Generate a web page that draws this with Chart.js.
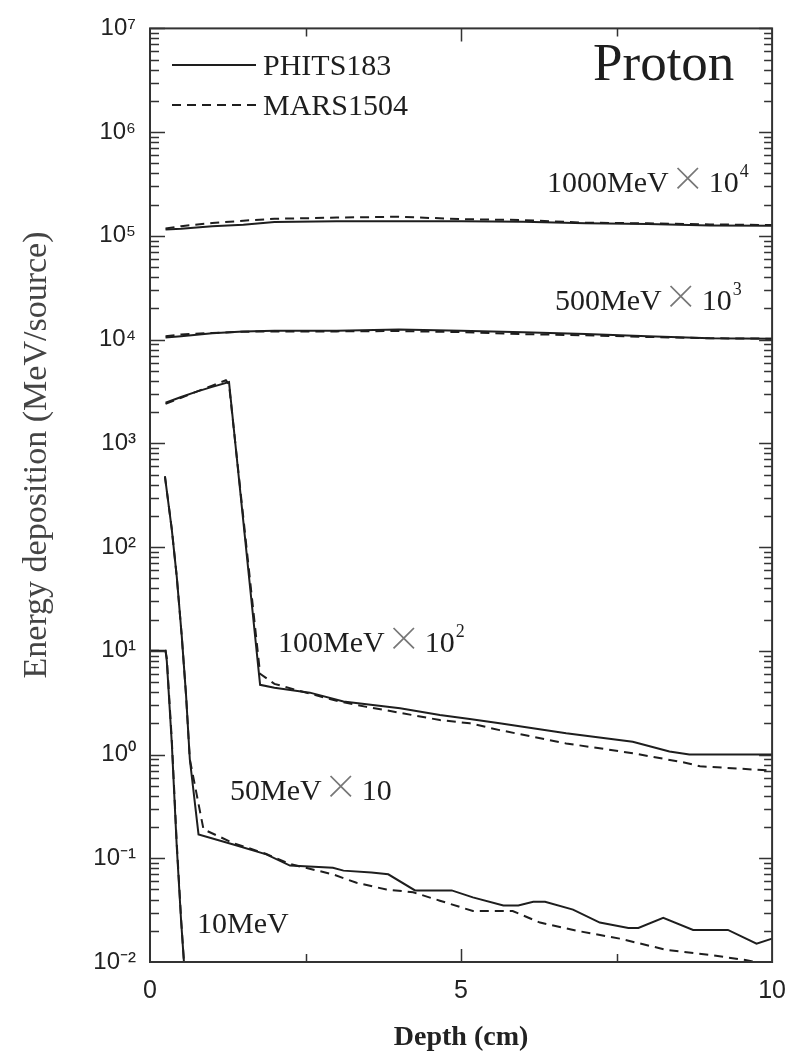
<!DOCTYPE html>
<html>
<head>
<meta charset="utf-8">
<title>Proton - Energy deposition</title>
<script src="https://cdn.jsdelivr.net/npm/chart.js@4.4.1/dist/chart.umd.min.js"></script>
<style>
  html, body { margin: 0; padding: 0; background: #fff; }
</style>
</head>
<body>
<canvas id="grafica" width="800" height="1061"></canvas>
<script>
// valores (profundidad en cm, MeV/source)
var depthFlat = [0.25, 0.5, 1, 1.5, 2, 3, 4, 5, 6, 7, 8, 9, 10];
var phits1000 = [1.15e5, 1.17e5, 1.24e5, 1.28e5, 1.36e5, 1.38e5, 1.38e5, 1.38e5, 1.37e5, 1.32e5, 1.30e5, 1.26e5, 1.25e5];
var mars1000  = [1.18e5, 1.24e5, 1.33e5, 1.40e5, 1.46e5, 1.50e5, 1.53e5, 1.45e5, 1.42e5, 1.34e5, 1.32e5, 1.29e5, 1.27e5];
var phits500  = [1.05e4, 1.08e4, 1.15e4, 1.20e4, 1.22e4, 1.22e4, 1.25e4, 1.22e4, 1.18e4, 1.13e4, 1.08e4, 1.03e4, 1.02e4];
var mars500   = [1.08e4, 1.12e4, 1.16e4, 1.19e4, 1.20e4, 1.20e4, 1.21e4, 1.18e4, 1.13e4, 1.10e4, 1.06e4, 1.03e4, 1.02e4];

var depthP100 = [0.25, 0.5, 0.75, 1.0, 1.27, 1.77, 2.0, 2.57, 3.11, 3.48, 4.02, 4.66, 5.14, 5.62, 6.69, 7.76, 8.35, 8.67, 10];
var phits100  = [2460, 2800, 3150, 3500, 3900, 4.7, 4.4, 3.95, 3.25, 3.05, 2.8, 2.4, 2.2, 2.0, 1.6, 1.33, 1.07, 1.0, 1.0];
var depthM100 = [0.25, 0.5, 0.75, 1.0, 1.22, 1.27, 1.77, 2.0, 2.57, 3.0, 3.48, 3.75, 4.66, 5.14, 5.62, 6.69, 7.76, 8.62, 8.84, 10];
var mars100   = [2400, 2750, 3150, 3600, 4050, 3700, 6.0, 4.8, 3.86, 3.3, 2.88, 2.7, 2.15, 2.0, 1.72, 1.28, 1.03, 0.83, 0.77, 0.70];

var depthP50 = [0.24, 0.35, 0.43, 0.51, 0.58, 0.64, 0.78, 1.34, 1.87, 2.25, 2.94, 3.11, 3.56, 3.83, 4.26, 4.85, 5.19, 5.68, 5.92, 6.16, 6.35, 6.80, 7.23, 7.69, 7.85, 8.25, 8.73, 9.29, 9.75, 10];
var phits50  = [480, 148, 52, 14, 3.7, 0.9, 0.17, 0.136, 0.109, 0.085, 0.081, 0.076, 0.073, 0.070, 0.049, 0.049, 0.042, 0.035, 0.035, 0.038, 0.038, 0.032, 0.024, 0.0213, 0.0213, 0.0266, 0.0204, 0.0204, 0.015, 0.0168];
var depthM50 = [0.24, 0.35, 0.43, 0.51, 0.58, 0.64, 0.86, 1.34, 1.87, 2.25, 2.94, 3.32, 3.80, 4.23, 4.66, 5.19, 5.83, 6.27, 6.86, 7.55, 8.30, 9.05, 9.59, 10];
var mars50   = [480, 150, 52, 14, 3.7, 0.9, 0.19, 0.14, 0.11, 0.088, 0.07, 0.058, 0.050, 0.047, 0.039, 0.031, 0.031, 0.024, 0.020, 0.0168, 0.0131, 0.0116, 0.0104, 0.0092];

var depth10 = [0, 0.25, 0.27, 0.35, 0.43, 0.50, 0.58];
var phits10 = [10, 10, 8, 1.3, 0.13, 0.025, 0.005];
var mars10  = [10, 10, 8.5, 1.4, 0.14, 0.026, 0.005];

var yMin = 1e-2, yMax = 1e7;
var xTicks = [0, 2.5, 5, 7.5, 10];
var xLabels = [0, 5, 10];

var serif = '"Liberation Serif", "Times New Roman", serif';
var sans = '"Liberation Sans", Arial, sans-serif';
var ink = '#1e1e1e';

function pts(xs, ys) {
  return xs.map(function(x, i) { return {x: x, y: ys[i]}; });
}
function solid(xs, ys) {
  return {data: pts(xs, ys), borderColor: ink, borderWidth: 2, pointRadius: 0, tension: 0, fill: false, clip: 0};
}
function dashed(xs, ys) {
  var d = solid(xs, ys);
  d.borderDash = [9, 6];
  return d;
}

var sup = {'-': '\u207B', '0': '\u2070', '1': '\u00B9', '2': '\u00B2', '3': '\u00B3', '4': '\u2074',
           '5': '\u2075', '6': '\u2076', '7': '\u2077', '8': '\u2078', '9': '\u2079'};
function pow10Label(e) {
  return '10' + String(e).split('').map(function(c) { return sup[c]; }).join('');
}
function isPow10(v) {
  var e = Math.log10(v);
  return Math.abs(e - Math.round(e)) < 1e-9;
}

// marco y ticks hacia adentro (como en la figura original)
var framePlugin = {
  id: 'frame',
  afterDatasetsDraw: function(chart) {
    var ctx = chart.ctx, a = chart.chartArea;
    var xs = chart.scales.x, ys = chart.scales.y;
    ctx.save();
    ctx.strokeStyle = '#333';
    ctx.lineWidth = 1.5;
    ctx.beginPath();
    ys.ticks.forEach(function(t) {
      var py = Math.round(ys.getPixelForValue(t.value)) + 0.5;
      if (py < a.top || py > a.bottom) return;
      var major = isPow10(t.value);
      ctx.moveTo(a.left, py); ctx.lineTo(a.left + (major ? 15 : 9), py);
      ctx.moveTo(a.right, py); ctx.lineTo(a.right - (major ? 13 : 8), py);
    });
    xs.ticks.forEach(function(t) {
      if (t.value <= 0 || t.value >= 10) return;
      var px = Math.round(xs.getPixelForValue(t.value)) + 0.5;
      var len = t.value === 5 ? 13 : 8;
      ctx.moveTo(px, a.bottom); ctx.lineTo(px, a.bottom - len);
      ctx.moveTo(px, a.top); ctx.lineTo(px, a.top + len);
    });
    ctx.stroke();
    ctx.lineWidth = 2;
    ctx.strokeRect(a.left, a.top, a.right - a.left, a.bottom - a.top);
    ctx.restore();
  }
};

// leyenda y rotulos de cada energia
var legendItems = [
  {text: 'PHITS183', dash: [], x: 172, y: 65},
  {text: 'MARS1504', dash: [9, 6], x: 172, y: 105}
];
var energyLabels = [
  {main: '1000MeV', power: '4', x: 547, y: 192},
  {main: '500MeV', power: '3', x: 555, y: 310},
  {main: '100MeV', power: '2', x: 278, y: 652},
  {main: '50MeV', power: '', x: 230, y: 800},
  {main: '10MeV', power: null, x: 197, y: 933}
];
var yTitle = {text: 'Energy deposition (MeV/source)', x: 37, y: 455};

function drawEnergyLabel(ctx, lab) {
  var x = lab.x;
  ctx.fillStyle = ink;
  ctx.font = '30px ' + serif;
  ctx.fillText(lab.main, x, lab.y);
  if (lab.power === null) return;
  x += ctx.measureText(lab.main).width + 2;
  ctx.fillStyle = '#777';
  ctx.font = '300 34px "Noto Sans CJK JP", ' + sans;
  ctx.fillText('\u00D7', x, lab.y - 1);
  x += ctx.measureText('\u00D7').width + 4;
  ctx.fillStyle = ink;
  ctx.font = '30px ' + serif;
  ctx.fillText('10', x, lab.y);
  x += ctx.measureText('10').width + 1;
  if (lab.power) {
    ctx.font = '18px ' + serif;
    ctx.fillText(lab.power, x, lab.y - 15);
  }
}

var textPlugin = {
  id: 'texts',
  afterDraw: function(chart) {
    var ctx = chart.ctx;
    ctx.save();
    ctx.textBaseline = 'alphabetic';
    ctx.textAlign = 'left';
    legendItems.forEach(function(it) {
      ctx.strokeStyle = ink;
      ctx.lineWidth = 2;
      ctx.setLineDash(it.dash);
      ctx.beginPath();
      ctx.moveTo(it.x, it.y);
      ctx.lineTo(it.x + 84, it.y);
      ctx.stroke();
      ctx.setLineDash([]);
      ctx.fillStyle = ink;
      ctx.font = '30px ' + serif;
      ctx.fillText(it.text, it.x + 91, it.y + 10);
    });
    ctx.font = '53px ' + serif;
    ctx.fillStyle = ink;
    ctx.fillText('Proton', 593, 80);
    energyLabels.forEach(function(lab) { drawEnergyLabel(ctx, lab); });

    // titulo del eje y, girado
    ctx.translate(yTitle.x, yTitle.y);
    ctx.rotate(-Math.PI / 2);
    ctx.textAlign = 'center';
    ctx.textBaseline = 'middle';
    ctx.fillStyle = '#444';
    ctx.font = '34px ' + serif;
    ctx.fillText(yTitle.text, 0, 0);
    ctx.restore();
  }
};

var ctx = document.getElementById('grafica').getContext('2d');
var grafica = new Chart(ctx, {
  type: 'line',
  data: {
    datasets: [
      solid(depthFlat, phits1000), dashed(depthFlat, mars1000),
      solid(depthFlat, phits500), dashed(depthFlat, mars500),
      solid(depthP100, phits100), dashed(depthM100, mars100),
      solid(depthP50, phits50), dashed(depthM50, mars50),
      solid(depth10, phits10), dashed(depth10, mars10)
    ]
  },
  options: {
    responsive: false,
    animation: false,
    layout: {padding: {top: 23, right: 27, left: 0, bottom: 0}},
    plugins: {legend: {display: false}, tooltip: {enabled: false}},
    scales: {
      x: {
        type: 'linear', position: 'bottom', min: 0, max: 10,
        afterBuildTicks: function(scale) {
          scale.ticks = xTicks.map(function(v) { return {value: v}; });
        },
        afterFit: function(scale) { scale.height = 99; },
        grid: {display: false, drawTicks: false},
        border: {display: false},
        ticks: {
          autoSkip: false, maxRotation: 0, padding: 14, color: '#222',
          font: {family: sans, size: 25},
          callback: function(v) { return xLabels.indexOf(v) >= 0 ? String(v) : ''; }
        },
        title: {
          display: true, text: 'Depth (cm)', color: '#222',
          font: {family: serif, size: 28, weight: 'bold'},
          padding: {top: 0, bottom: 6}
        }
      },
      y: {
        type: 'logarithmic', position: 'left', min: yMin, max: yMax,
        afterBuildTicks: function(scale) {
          var t = [];
          for (var e = -2; e < 7; e++) {
            for (var m = 1; m < 10; m++) t.push({value: m * Math.pow(10, e)});
          }
          t.push({value: yMax});
          scale.ticks = t;
        },
        afterFit: function(scale) { scale.width = 150; },
        grid: {display: false, drawTicks: false},
        border: {display: false},
        ticks: {
          autoSkip: false, padding: 14, color: '#222',
          font: {family: sans, size: 24},
          callback: function(v) { return isPow10(v) ? pow10Label(Math.round(Math.log10(v))) : ''; }
        },
        title: {display: false}
      }
    }
  },
  plugins: [framePlugin, textPlugin]
});
</script>
</body>
</html>
